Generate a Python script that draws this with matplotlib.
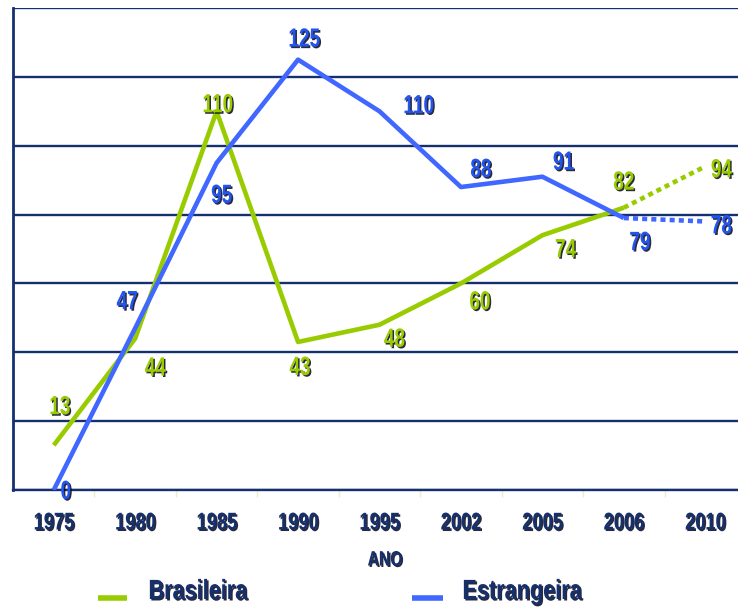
import matplotlib
matplotlib.use("Agg")
import matplotlib.pyplot as plt
import matplotlib.patheffects as pe
from matplotlib.lines import Line2D
from matplotlib.path import Path
from matplotlib.transforms import Affine2D

# data
anos = ["1975", "1980", "1985", "1990", "1995", "2002", "2005", "2006", "2010"]
brasileira = [13, 44, 110, 43, 48, 60, 74, 82, 94]
estrangeira = [0, 47, 95, 125, 110, 88, 91, 79, 78]

# label offsets (pixels) so numbers sit where the original put them
off_bra = [(6, 38), (20, -30), (1, 6), (2, -26), (15, -15), (19, -19), (23, -15), (0, 25), (16, -4)]
off_est = [(12, -2), (-8, 26), (5, -33), (6, 20), (39, 5), (20, 17), (21, 14), (16, -25), (16, -5)]

verde = "#99cc00"
azul = "#4067ff"
azul_txt = "#2255ee"
marinho = "#14306e"
fonte = ["Liberation Sans", "DejaVu Sans"]


class Condensado(pe.AbstractPathEffect):
    """narrow bold text (the original uses a condensed face) with a dark drop shadow"""

    def __init__(self, escala=0.72, ancora="center", sombra=(1.5, -1.5)):
        super().__init__()
        self.escala = escala
        self.ancora = ancora
        self.sombra = sombra

    def draw_path(self, renderer, gc, tpath, affine, rgbFace=None):
        v = tpath.vertices
        if tpath.codes is not None:
            v = v[tpath.codes != Path.CLOSEPOLY]
        if len(v) == 0:
            return
        x0 = v[:, 0].min() if self.ancora == "left" else (v[:, 0].min() + v[:, 0].max()) / 2
        t = Affine2D().translate(-x0, 0).scale(self.escala, 1).translate(x0, 0) + affine
        gc0 = renderer.new_gc()
        gc0.copy_properties(gc)
        gc0.set_linewidth(0)
        gc0.set_alpha(0.85)
        renderer.draw_path(gc0, tpath, t + Affine2D().translate(*self.sombra), (0.02, 0.02, 0.1))
        gc0.restore()
        renderer.draw_path(gc, tpath, t, rgbFace)


fig = plt.figure(figsize=(7.38, 6.11), dpi=100)
ax = fig.add_axes([13 / 738, 121 / 611, 733 / 738, 482 / 611])

x = list(range(len(anos)))
n = len(anos) - 1  # last point is a projection -> dotted

ax.plot(x[:n], brasileira[:n], color=verde, lw=3.3, solid_capstyle="butt", zorder=3)
ax.plot(x[n - 1:], brasileira[n - 1:], color=verde, lw=3.3, ls=(0, (1.1, 0.9)),
        dash_capstyle="butt", zorder=3)
ax.plot(x[:n], estrangeira[:n], color=azul, lw=3.3, solid_capstyle="butt", zorder=4)
ax.plot(x[n - 1:], estrangeira[n - 1:], color=azul, lw=3.3, ls=(0, (1.1, 0.9)),
        dash_capstyle="butt", zorder=4)

for i in x:
    ax.annotate(str(brasileira[i]), (i, brasileira[i]), xytext=off_bra[i], textcoords="offset pixels",
                ha="center", va="center", color=verde, fontsize=19, fontweight="bold",
                family=fonte, path_effects=[Condensado(0.72)], zorder=5)
    ax.annotate(str(estrangeira[i]), (i, estrangeira[i]), xytext=off_est[i], textcoords="offset pixels",
                ha="center", va="center", color=azul_txt, fontsize=19, fontweight="bold",
                family=fonte, path_effects=[Condensado(0.72)], zorder=5)

ax.set_xlim(-0.5, len(anos) - 0.5)
ax.set_ylim(0, 140)
ax.set_yticks(range(0, 141, 20))
ax.yaxis.grid(True, color=marinho, lw=1.7)
ax.set_axisbelow(True)
ax.tick_params(axis="y", length=0, labelleft=False)

ax.set_xticks(x)
ax.set_xticklabels(anos)
ax.set_xticks([i + 0.5 for i in x[:-1]], minor=True)
ax.tick_params(axis="x", which="major", length=0, pad=15.5)
ax.tick_params(axis="x", which="minor", length=5, color="#f0eec0", width=1)
for t in ax.get_xticklabels():
    t.set_fontfamily(fonte)
    t.set_fontsize(17.5)
    t.set_fontweight("bold")
    t.set_color(marinho)
    t.set_path_effects([Condensado(0.75)])

fig.text(385 / 738, 1 - 560 / 611, "ANO", ha="center", va="center", fontsize=15, fontweight="bold",
         family=fonte, color=marinho, path_effects=[Condensado(0.75)])

for s in ["top", "right"]:
    ax.spines[s].set_visible(False)
ax.spines["left"].set_color(marinho)
ax.spines["left"].set_linewidth(2)
ax.spines["bottom"].set_color(marinho)
ax.spines["bottom"].set_linewidth(1.7)

# legend drawn by hand: short thick swatch + condensed label
series = [("Brasileira", verde, 98, 127, 148), ("Estrangeira", azul, 412, 443, 462)]
for nome, cor, h0, h1, tx in series:
    fig.add_artist(Line2D([h0 / 738, h1 / 738], [1 - 598 / 611] * 2, color=cor, lw=4, solid_capstyle="butt"))
    fig.text(tx / 738, 1 - 592 / 611, nome, ha="left", va="center", fontsize=20, fontweight="bold",
             family=fonte, color=marinho, path_effects=[Condensado(0.78, ancora="left")])

fig.savefig("out.png", dpi=100)
